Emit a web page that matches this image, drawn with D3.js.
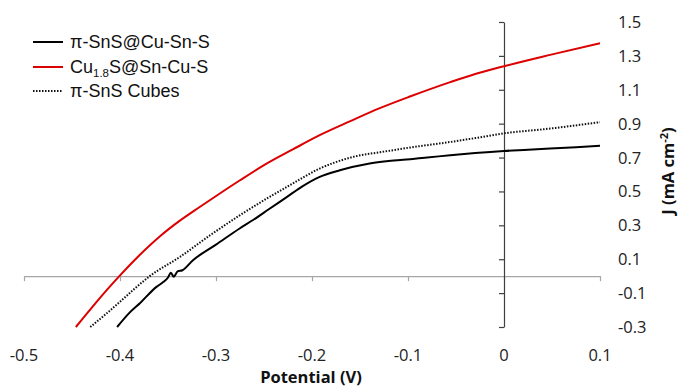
<!DOCTYPE html>
<html>
<head>
<meta charset="utf-8">
<script src="https://cdn.jsdelivr.net/npm/d3@7"></script>
<style>
  html, body { margin: 0; padding: 0; background: #fff; }
  svg { display: block; }
</style>
</head>
<body>
<svg id="chart" width="678" height="389"></svg>
<script>
// Linear sweep voltammetry: current density J vs potential
const seriesNames = ["π-SnS@Cu-Sn-S", "Cu1.8S@Sn-Cu-S", "π-SnS Cubes"];

const coreShellX = [-0.403, -0.39, -0.379, -0.362, -0.355, -0.350, -0.347, -0.344, -0.340, -0.335, -0.324, -0.30, -0.275, -0.261, -0.245, -0.226, -0.21, -0.192, -0.171, -0.14, -0.108, -0.08, -0.056, -0.03, 0, 0.025, 0.048, 0.075, 0.1];
const coreShellY = [-0.30, -0.215, -0.158, -0.063, -0.035, -0.008, 0.02, -0.003, 0.028, 0.035, 0.094, 0.186, 0.283, 0.333, 0.395, 0.468, 0.53, 0.586, 0.625, 0.665, 0.686, 0.70, 0.714, 0.727, 0.739, 0.746, 0.753, 0.761, 0.769];

const cuSX = [-0.446, -0.43, -0.415, -0.4007, -0.38, -0.358, -0.338, -0.317, -0.296, -0.275, -0.25, -0.22, -0.192, -0.16, -0.13, -0.098, -0.056, -0.03, 0, 0.048, 0.1];
const cuSY = [-0.30, -0.19, -0.09, 0, 0.122, 0.237, 0.326, 0.408, 0.488, 0.566, 0.655, 0.748, 0.832, 0.915, 0.99, 1.06, 1.145, 1.193, 1.239, 1.306, 1.375];

const cubesX = [-0.431, -0.415, -0.40, -0.385, -0.369, -0.3375, -0.306, -0.275, -0.245, -0.226, -0.192, -0.157, -0.125, -0.098, -0.056, -0.03, 0, 0.048, 0.1];
const cubesY = [-0.30, -0.225, -0.151, -0.075, 0, 0.114, 0.242, 0.36, 0.465, 0.527, 0.635, 0.704, 0.735, 0.759, 0.792, 0.815, 0.843, 0.871, 0.909];

const xTicks = [-0.5, -0.4, -0.3, -0.2, -0.1, 0, 0.1];
const xTickLabels = ["-0.5", "-0.4", "-0.3", "-0.2", "-0.1", "0", "0.1"];
const yTicks = [-0.3, -0.1, 0.1, 0.3, 0.5, 0.7, 0.9, 1.1, 1.3, 1.5];
const yTickLabels = ["-0.3", "-0.1", "0.1", "0.3", "0.5", "0.7", "0.9", "1.1", "1.3", "1.5"];

const svg = d3.select("#chart");
const x = d3.scaleLinear().domain([-0.5, 0.1]).range([24, 600]);
const y = d3.scaleLinear().domain([-0.3, 1.5]).range([327, 22]);

const tickFont = "'Open Sans', sans-serif";

// horizontal axis through J = 0
const xAxis = svg.append("g")
  .attr("transform", `translate(0,${y(0)})`)
  .call(d3.axisBottom(x).tickValues(xTicks).tickSize(5).tickSizeOuter(0).tickFormat(""));
xAxis.select(".domain").attr("stroke", "#a6a6a6").attr("stroke-width", 1.2);
xAxis.selectAll(".tick line").attr("stroke", "#a6a6a6").attr("stroke-width", 1.2);

// vertical axis through E = 0
const yAxis = svg.append("g")
  .attr("transform", `translate(${x(0)},0)`)
  .call(d3.axisLeft(y).tickValues(yTicks).tickSize(5).tickSizeOuter(0).tickFormat(""));
yAxis.select(".domain").attr("stroke", "#404040").attr("stroke-width", 1.2);
yAxis.selectAll(".tick line").attr("stroke", "#404040").attr("stroke-width", 1.2);

// tick labels
svg.append("g").selectAll("text")
  .data(xTicks)
  .join("text")
  .attr("x", d => x(d))
  .attr("y", 361)
  .attr("text-anchor", "middle")
  .attr("font-family", tickFont)
  .attr("font-size", 16.5)
  .attr("fill", "#222")
  .text((d, i) => xTickLabels[i]);

svg.append("g").selectAll("text")
  .data(yTicks)
  .join("text")
  .attr("x", 618)
  .attr("y", d => y(d) + 6)
  .attr("font-family", tickFont)
  .attr("font-size", 16.5)
  .attr("fill", "#222")
  .text((d, i) => yTickLabels[i]);

// axis titles
svg.append("text")
  .attr("x", 311)
  .attr("y", 383)
  .attr("text-anchor", "middle")
  .attr("font-family", tickFont)
  .attr("font-weight", "bold")
  .attr("font-size", 16.5)
  .attr("fill", "#111")
  .text("Potential (V)");

const yTitle = svg.append("text")
  .attr("transform", "translate(674,171) rotate(-90)")
  .attr("text-anchor", "middle")
  .attr("font-family", tickFont)
  .attr("font-weight", "bold")
  .attr("font-size", 16.5)
  .attr("fill", "#111");
yTitle.append("tspan").text("J (mA cm");
yTitle.append("tspan").attr("font-size", 11).attr("dy", -6).text("-2");
yTitle.append("tspan").attr("dy", 6).text(")");

// curves
const line = d3.line().x(d => x(d[0])).y(d => y(d[1])).curve(d3.curveMonotoneX);
const zipXY = (xs, ys) => xs.map((v, i) => [v, ys[i]]);

svg.append("path")
  .datum(zipXY(cuSX, cuSY))
  .attr("d", line)
  .attr("fill", "none")
  .attr("stroke", "#dd0000")
  .attr("stroke-width", 2);

svg.append("path")
  .datum(zipXY(cubesX, cubesY))
  .attr("d", line)
  .attr("fill", "none")
  .attr("stroke", "#111")
  .attr("stroke-width", 2)
  .attr("stroke-dasharray", "1.5,1.5");

svg.append("path")
  .datum(zipXY(coreShellX, coreShellY))
  .attr("d", line)
  .attr("fill", "none")
  .attr("stroke", "#000")
  .attr("stroke-width", 2);

// legend
const legendFont = "'Liberation Sans', Arial, sans-serif";
const legendRows = [
  { y: 42, stroke: "#000", dash: null },
  { y: 67, stroke: "#dd0000", dash: null },
  { y: 91, stroke: "#111", dash: "1.5,1.5" }
];
const legend = svg.append("g");
legendRows.forEach((r, i) => {
  legend.append("line")
    .attr("x1", 33).attr("x2", 63)
    .attr("y1", r.y).attr("y2", r.y)
    .attr("stroke", r.stroke)
    .attr("stroke-width", 2)
    .attr("stroke-dasharray", r.dash);
  const t = legend.append("text")
    .attr("x", 70)
    .attr("y", r.y + 6)
    .attr("font-family", legendFont)
    .attr("font-size", 18)
    .attr("fill", "#111");
  if (i === 1) {
    t.append("tspan").text("Cu");
    t.append("tspan").attr("font-size", 11.5).attr("dy", 4).text("1.8");
    t.append("tspan").attr("dy", -4).text("S@Sn-Cu-S");
  } else {
    t.text(seriesNames[i]);
  }
});
</script>
</body>
</html>
